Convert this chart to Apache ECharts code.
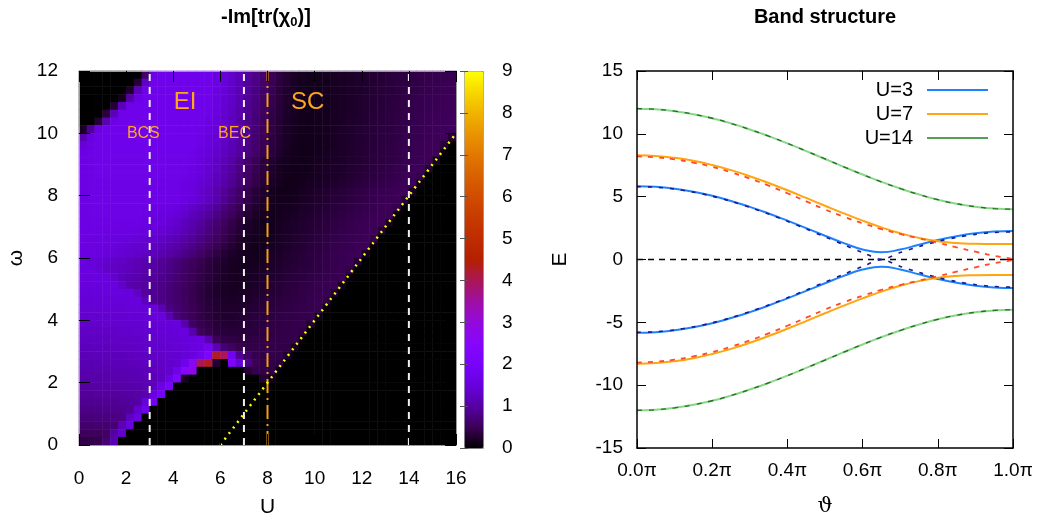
<!DOCTYPE html>
<html><head><meta charset="utf-8">
<script src="https://cdn.jsdelivr.net/npm/echarts@6/dist/echarts.min.js"></script>
<style>html,body{margin:0;padding:0;background:#fff}#c{width:1041px;height:523px}</style>
</head><body><div id="c"></div>
<script>
// ---------- Left panel: -Im[tr(chi0)] heat map (cell centres) ----------
const uCenters = [0.17,0.5,0.83,1.17,1.5,1.83,2.17,2.5,2.83,3.17,3.5,3.83,4.17,4.5,4.83,5.17,5.5,5.83,6.17,6.5,6.83,7.17,7.5,7.83,
  8.17,8.5,8.83,9.17,9.5,9.83,10.17,10.5,10.83,11.17,11.5,11.83,12.17,12.5,12.83,13.17,13.5,13.83,14.17,14.5,14.83,15.17,15.5,15.83];
const omegaCenters = [0.125,0.375,0.625,0.875,1.125,1.375,1.625,1.875,2.125,2.375,2.625,2.875,3.125,3.375,3.625,3.875,
  4.125,4.375,4.625,4.875,5.125,5.375,5.625,5.875,6.125,6.375,6.625,6.875,7.125,7.375,7.625,7.875,
  8.125,8.375,8.625,8.875,9.125,9.375,9.625,9.875,10.125,10.375,10.625,10.875,11.125,11.375,11.625,11.875];
// rows listed from the top (omega = 11.875) down to the bottom (omega = 0.125)
const chiRows = [
[0,0,0,0,0,0,0,0,0.6,1.55,1.7,1.72,1.72,1.72,1.72,1.72,1.72,1.6,1.48,1.34,1.16,0.96,0.8,0.63,0.48,0.36,0.28,0.21,0.18,0.16,0.16,0.18,0.19,0.21,0.23,0.25,0.27,0.29,0.31,0.34,0.36,0.38,0.4,0.42,0.43,0.44,0.46,0.47],
[0,0,0,0,0,0,0,0.3,1.3,1.68,1.72,1.72,1.72,1.72,1.72,1.72,1.72,1.62,1.5,1.35,1.17,0.97,0.8,0.63,0.48,0.36,0.28,0.21,0.18,0.16,0.16,0.17,0.19,0.21,0.23,0.25,0.27,0.29,0.31,0.34,0.36,0.38,0.4,0.42,0.44,0.45,0.47,0.48],
[0,0,0,0,0,0,0.25,1.2,1.65,1.72,1.72,1.72,1.72,1.72,1.72,1.72,1.72,1.6,1.48,1.33,1.15,0.95,0.78,0.61,0.47,0.35,0.27,0.21,0.17,0.16,0.16,0.17,0.19,0.21,0.23,0.25,0.27,0.3,0.32,0.34,0.37,0.39,0.41,0.43,0.45,0.46,0.48,0.49],
[0,0,0,0,0,0.15,1.0,1.6,1.72,1.72,1.72,1.72,1.72,1.72,1.72,1.72,1.7,1.58,1.45,1.31,1.13,0.93,0.76,0.6,0.45,0.34,0.26,0.2,0.17,0.15,0.16,0.17,0.19,0.21,0.23,0.26,0.28,0.3,0.33,0.35,0.37,0.4,0.42,0.44,0.46,0.47,0.49,0.5],
[0,0,0,0,0.3,1.2,1.65,1.72,1.72,1.72,1.72,1.72,1.72,1.72,1.72,1.72,1.68,1.56,1.43,1.29,1.1,0.9,0.74,0.58,0.44,0.33,0.25,0.2,0.16,0.15,0.16,0.17,0.19,0.21,0.24,0.26,0.28,0.31,0.33,0.36,0.38,0.41,0.43,0.45,0.47,0.48,0.5,0.51],
[0,0,0,0.35,1.2,1.65,1.72,1.72,1.72,1.72,1.72,1.72,1.72,1.72,1.72,1.72,1.66,1.54,1.41,1.27,1.07,0.88,0.72,0.56,0.42,0.32,0.24,0.19,0.16,0.15,0.16,0.17,0.19,0.22,0.24,0.26,0.29,0.31,0.34,0.36,0.39,0.41,0.44,0.46,0.48,0.49,0.51,0.52],
[0,0,0.3,1.15,1.62,1.72,1.72,1.72,1.72,1.72,1.72,1.72,1.72,1.72,1.72,1.68,1.6,1.5,1.38,1.24,1.04,0.86,0.7,0.54,0.4,0.31,0.23,0.18,0.16,0.15,0.16,0.18,0.2,0.22,0.25,0.27,0.29,0.32,0.34,0.37,0.39,0.42,0.44,0.46,0.48,0.5,0.52,0.53],
[0.2,0.9,1.55,1.72,1.72,1.72,1.72,1.72,1.72,1.72,1.72,1.72,1.72,1.72,1.72,1.66,1.56,1.46,1.35,1.21,1.02,0.84,0.68,0.52,0.39,0.3,0.22,0.18,0.15,0.15,0.16,0.18,0.2,0.23,0.25,0.28,0.3,0.32,0.35,0.37,0.4,0.42,0.45,0.47,0.49,0.51,0.52,0.54],
[1.1,1.5,1.68,1.72,1.72,1.72,1.72,1.72,1.72,1.72,1.72,1.72,1.72,1.72,1.72,1.64,1.54,1.44,1.33,1.19,1.0,0.82,0.66,0.5,0.38,0.29,0.22,0.17,0.15,0.15,0.16,0.18,0.2,0.23,0.25,0.28,0.3,0.33,0.35,0.38,0.4,0.43,0.45,0.47,0.49,0.51,0.53,0.3],
[1.45,1.62,1.68,1.72,1.72,1.72,1.72,1.72,1.72,1.72,1.72,1.72,1.72,1.72,1.7,1.62,1.52,1.42,1.3,1.16,0.98,0.8,0.64,0.49,0.37,0.28,0.21,0.17,0.15,0.15,0.16,0.18,0.2,0.23,0.25,0.28,0.31,0.33,0.36,0.38,0.41,0.43,0.46,0.48,0.5,0.52,0.3,0],
[1.58,1.65,1.68,1.7,1.7,1.7,1.7,1.7,1.7,1.7,1.7,1.7,1.7,1.7,1.66,1.58,1.48,1.38,1.26,1.12,0.95,0.77,0.62,0.47,0.36,0.27,0.2,0.17,0.15,0.15,0.17,0.19,0.21,0.23,0.26,0.28,0.31,0.34,0.36,0.39,0.41,0.44,0.46,0.48,0.5,0.5,0.06,0],
[1.62,1.66,1.68,1.7,1.7,1.7,1.7,1.7,1.7,1.7,1.7,1.7,1.7,1.7,1.64,1.54,1.42,1.32,1.19,1.03,0.85,0.66,0.5,0.37,0.28,0.21,0.18,0.16,0.15,0.16,0.18,0.2,0.22,0.24,0.27,0.29,0.32,0.34,0.37,0.4,0.42,0.45,0.47,0.49,0.51,0.19,0,0],
[1.62,1.65,1.69,1.69,1.69,1.69,1.69,1.69,1.69,1.69,1.69,1.69,1.69,1.69,1.62,1.52,1.4,1.28,1.14,0.98,0.8,0.62,0.47,0.35,0.26,0.2,0.17,0.15,0.16,0.17,0.19,0.21,0.23,0.25,0.28,0.3,0.33,0.36,0.38,0.41,0.44,0.46,0.49,0.51,0.32,0,0,0],
[1.62,1.65,1.68,1.68,1.68,1.68,1.68,1.68,1.68,1.68,1.68,1.68,1.68,1.65,1.58,1.48,1.36,1.24,1.1,0.93,0.76,0.59,0.45,0.33,0.25,0.19,0.16,0.15,0.16,0.18,0.2,0.22,0.24,0.26,0.29,0.31,0.34,0.37,0.4,0.42,0.45,0.48,0.5,0.45,0,0,0,0],
[1.62,1.65,1.66,1.66,1.66,1.66,1.66,1.66,1.66,1.66,1.66,1.66,1.65,1.6,1.54,1.44,1.33,1.2,1.05,0.89,0.72,0.56,0.42,0.31,0.23,0.18,0.15,0.15,0.17,0.19,0.21,0.24,0.26,0.29,0.31,0.34,0.37,0.4,0.42,0.45,0.47,0.49,0.52,0.07,0,0,0,0],
[1.62,1.64,1.65,1.65,1.65,1.65,1.65,1.65,1.65,1.65,1.65,1.65,1.65,1.58,1.5,1.38,1.27,1.1,0.93,0.76,0.59,0.44,0.33,0.25,0.18,0.15,0.15,0.17,0.2,0.23,0.25,0.28,0.31,0.33,0.36,0.39,0.41,0.44,0.46,0.48,0.5,0.51,0.2,0,0,0,0,0],
[1.62,1.64,1.65,1.65,1.65,1.65,1.65,1.65,1.65,1.65,1.65,1.65,1.64,1.57,1.48,1.37,1.25,1.08,0.9,0.73,0.57,0.43,0.32,0.24,0.18,0.15,0.16,0.18,0.21,0.24,0.26,0.29,0.32,0.34,0.37,0.4,0.42,0.45,0.47,0.49,0.5,0.32,0,0,0,0,0,0],
[1.62,1.64,1.64,1.64,1.64,1.64,1.64,1.64,1.62,1.6,1.58,1.55,1.52,1.44,1.32,1.22,1.08,0.94,0.76,0.62,0.48,0.36,0.27,0.21,0.17,0.17,0.18,0.2,0.23,0.25,0.28,0.31,0.33,0.36,0.39,0.41,0.44,0.46,0.48,0.5,0.44,0,0,0,0,0,0,0],
[1.62,1.63,1.63,1.63,1.63,1.63,1.63,1.63,1.6,1.57,1.54,1.49,1.44,1.33,1.21,1.09,0.95,0.81,0.66,0.53,0.4,0.3,0.23,0.18,0.17,0.18,0.2,0.22,0.25,0.27,0.3,0.33,0.36,0.39,0.42,0.44,0.46,0.48,0.5,0.5,0.06,0,0,0,0,0,0,0],
[1.62,1.62,1.62,1.62,1.62,1.62,1.62,1.62,1.58,1.54,1.49,1.41,1.35,1.22,1.08,0.95,0.82,0.67,0.55,0.43,0.33,0.25,0.2,0.16,0.16,0.19,0.22,0.25,0.27,0.3,0.33,0.36,0.39,0.42,0.44,0.46,0.48,0.5,0.5,0.19,0,0,0,0,0,0,0,0],
[1.62,1.61,1.6,1.6,1.59,1.58,1.57,1.56,1.52,1.48,1.42,1.35,1.27,1.15,1.02,0.9,0.77,0.63,0.51,0.4,0.31,0.24,0.19,0.16,0.17,0.2,0.23,0.25,0.28,0.31,0.34,0.37,0.4,0.43,0.45,0.47,0.49,0.5,0.31,0,0,0,0,0,0,0,0,0],
[1.61,1.59,1.57,1.56,1.54,1.52,1.5,1.47,1.42,1.37,1.31,1.24,1.16,1.05,0.93,0.81,0.69,0.57,0.46,0.35,0.27,0.21,0.17,0.16,0.18,0.21,0.24,0.27,0.3,0.33,0.36,0.39,0.42,0.44,0.46,0.48,0.5,0.44,0,0,0,0,0,0,0,0,0,0],
[1.6,1.57,1.54,1.52,1.49,1.46,1.43,1.39,1.33,1.27,1.2,1.12,1.03,0.93,0.82,0.71,0.6,0.49,0.39,0.3,0.23,0.19,0.16,0.17,0.19,0.22,0.25,0.28,0.31,0.34,0.37,0.4,0.43,0.45,0.47,0.49,0.5,0.06,0,0,0,0,0,0,0,0,0,0],
[1.6,1.56,1.53,1.5,1.46,1.42,1.38,1.34,1.25,1.18,1.1,1.02,0.93,0.82,0.71,0.6,0.48,0.39,0.31,0.24,0.19,0.17,0.16,0.18,0.21,0.24,0.27,0.3,0.33,0.36,0.38,0.41,0.44,0.46,0.48,0.5,0.19,0,0,0,0,0,0,0,0,0,0,0],
[1.55,1.47,1.42,1.38,1.33,1.28,1.23,1.15,1.09,1.02,0.92,0.83,0.73,0.63,0.54,0.46,0.38,0.31,0.26,0.2,0.18,0.17,0.18,0.2,0.23,0.26,0.28,0.31,0.34,0.36,0.39,0.42,0.44,0.47,0.49,0.31,0,0,0,0,0,0,0,0,0,0,0,0],
[1.5,1.53,1.45,1.33,1.28,1.24,1.19,1.12,1.05,0.98,0.89,0.8,0.7,0.6,0.51,0.43,0.36,0.29,0.24,0.2,0.18,0.18,0.2,0.22,0.25,0.27,0.3,0.33,0.35,0.38,0.4,0.43,0.45,0.47,0.43,0,0,0,0,0,0,0,0,0,0,0,0,0],
[1.5,1.5,1.51,1.53,1.38,1.18,1.13,1.07,1.01,0.94,0.85,0.76,0.67,0.57,0.49,0.41,0.34,0.28,0.23,0.19,0.19,0.2,0.22,0.25,0.27,0.29,0.32,0.34,0.37,0.39,0.42,0.44,0.46,0.48,0.06,0,0,0,0,0,0,0,0,0,0,0,0,0],
[1.49,1.49,1.5,1.5,1.52,1.33,1.09,1.03,0.97,0.9,0.82,0.73,0.64,0.55,0.46,0.39,0.32,0.26,0.22,0.19,0.19,0.21,0.24,0.27,0.3,0.32,0.35,0.37,0.4,0.42,0.44,0.46,0.48,0.18,0,0,0,0,0,0,0,0,0,0,0,0,0,0],
[1.48,1.48,1.48,1.49,1.5,1.51,1.53,1.28,0.95,0.88,0.8,0.71,0.62,0.53,0.45,0.38,0.31,0.26,0.22,0.2,0.21,0.23,0.26,0.29,0.31,0.33,0.36,0.38,0.41,0.43,0.45,0.47,0.3,0,0,0,0,0,0,0,0,0,0,0,0,0,0,0],
[1.44,1.44,1.44,1.45,1.45,1.46,1.48,1.5,1.22,0.87,0.8,0.72,0.63,0.55,0.46,0.39,0.32,0.27,0.24,0.22,0.23,0.25,0.29,0.32,0.34,0.36,0.38,0.4,0.42,0.44,0.46,0.4,0,0,0,0,0,0,0,0,0,0,0,0,0,0,0,0],
[1.41,1.41,1.42,1.42,1.43,1.44,1.45,1.46,1.48,1.5,1.16,0.78,0.69,0.58,0.49,0.41,0.34,0.29,0.26,0.25,0.26,0.28,0.31,0.34,0.36,0.38,0.4,0.41,0.43,0.44,0.46,0.06,0,0,0,0,0,0,0,0,0,0,0,0,0,0,0,0],
[1.37,1.37,1.38,1.38,1.39,1.4,1.41,1.42,1.44,1.46,1.49,1.14,0.72,0.6,0.5,0.42,0.35,0.3,0.27,0.27,0.29,0.31,0.34,0.36,0.38,0.4,0.41,0.42,0.43,0.45,0.17,0,0,0,0,0,0,0,0,0,0,0,0,0,0,0,0,0],
[1.33,1.34,1.35,1.36,1.37,1.38,1.39,1.4,1.42,1.43,1.45,1.48,1.5,1.08,0.58,0.47,0.39,0.33,0.3,0.29,0.3,0.32,0.35,0.37,0.39,0.4,0.42,0.43,0.44,0.28,0,0,0,0,0,0,0,0,0,0,0,0,0,0,0,0,0,0],
[1.29,1.3,1.3,1.31,1.32,1.33,1.35,1.36,1.38,1.4,1.42,1.44,1.47,1.5,1.06,0.54,0.44,0.37,0.34,0.33,0.33,0.34,0.36,0.38,0.4,0.41,0.42,0.43,0.38,0,0,0,0,0,0,0,0,0,0,0,0,0,0,0,0,0,0,0],
[1.25,1.26,1.26,1.27,1.28,1.29,1.3,1.32,1.34,1.36,1.38,1.41,1.44,1.48,1.53,1.6,1.1,0.5,0.42,0.39,0.38,0.38,0.39,0.4,0.41,0.42,0.42,0.43,0.05,0,0,0,0,0,0,0,0,0,0,0,0,0,0,0,0,0,0,0],
[1.21,1.22,1.22,1.23,1.24,1.25,1.27,1.29,1.31,1.33,1.35,1.38,1.41,1.45,1.5,1.6,1.8,1.2,0.7,0.55,0.45,0.42,0.42,0.42,0.42,0.42,0.42,0.16,0,0,0,0,0,0,0,0,0,0,0,0,0,0,0,0,0,0,0,0],
[1.17,1.18,1.18,1.19,1.2,1.21,1.23,1.25,1.27,1.3,1.33,1.36,1.4,1.45,1.52,1.75,2.2,4.3,4.0,1.8,0.9,0.6,0.45,0.42,0.42,0.42,0.26,0,0,0,0,0,0,0,0,0,0,0,0,0,0,0,0,0,0,0,0,0],
[1.13,1.14,1.14,1.15,1.16,1.17,1.19,1.21,1.24,1.27,1.31,1.35,1.42,1.7,2.6,4.0,4.3,0.3,0,2.2,1.5,0.8,0.5,0.42,0.4,0.36,0,0,0,0,0,0,0,0,0,0,0,0,0,0,0,0,0,0,0,0,0,0],
[1.08,1.09,1.1,1.1,1.11,1.12,1.14,1.16,1.19,1.23,1.28,1.36,1.7,2.5,2.8,0,0,0,0,0,0,0.3,0.45,0.42,0.4,0.05,0,0,0,0,0,0,0,0,0,0,0,0,0,0,0,0,0,0,0,0,0,0],
[1.03,1.04,1.05,1.06,1.07,1.08,1.1,1.12,1.15,1.19,1.26,1.55,2.3,0.2,0,0,0,0,0,0,0,0,0,0.3,0.15,0,0,0,0,0,0,0,0,0,0,0,0,0,0,0,0,0,0,0,0,0,0,0],
[0.98,0.99,1.0,1.01,1.02,1.03,1.05,1.07,1.1,1.2,1.6,2.0,0,0,0,0,0,0,0,0,0,0,0,0,0,0,0,0,0,0,0,0,0,0,0,0,0,0,0,0,0,0,0,0,0,0,0,0],
[0.93,0.94,0.95,0.96,0.97,0.98,1.0,1.02,1.1,1.5,1.9,0,0,0,0,0,0,0,0,0,0,0,0,0,0,0,0,0,0,0,0,0,0,0,0,0,0,0,0,0,0,0,0,0,0,0,0,0],
[0.86,0.87,0.88,0.89,0.9,0.92,0.94,1.0,1.45,1.8,0,0,0,0,0,0,0,0,0,0,0,0,0,0,0,0,0,0,0,0,0,0,0,0,0,0,0,0,0,0,0,0,0,0,0,0,0,0],
[0.8,0.81,0.82,0.83,0.84,0.86,0.92,1.35,1.7,0,0,0,0,0,0,0,0,0,0,0,0,0,0,0,0,0,0,0,0,0,0,0,0,0,0,0,0,0,0,0,0,0,0,0,0,0,0,0],
[0.72,0.73,0.74,0.75,0.77,0.8,1.25,1.6,0,0,0,0,0,0,0,0,0,0,0,0,0,0,0,0,0,0,0,0,0,0,0,0,0,0,0,0,0,0,0,0,0,0,0,0,0,0,0,0],
[0.63,0.64,0.65,0.66,0.7,1.15,1.5,0,0,0,0,0,0,0,0,0,0,0,0,0,0,0,0,0,0,0,0,0,0,0,0,0,0,0,0,0,0,0,0,0,0,0,0,0,0,0,0,0],
[0.52,0.53,0.54,0.58,1.0,1.35,0,0,0,0,0,0,0,0,0,0,0,0,0,0,0,0,0,0,0,0,0,0,0,0,0,0,0,0,0,0,0,0,0,0,0,0,0,0,0,0,0,0],
[0.4,0.41,0.45,0.7,1.1,0,0,0,0,0,0,0,0,0,0,0,0,0,0,0,0,0,0,0,0,0,0,0,0,0,0,0,0,0,0,0,0,0,0,0,0,0,0,0,0,0,0,0]
];
const colorTicks = [0,1,2,3,4,5,6,7,8,9];
const regimeLinesU = [3, 7, 14];          // white dashed lines
const scLineU = 8;                        // orange dash-dot line
const thresholdLine = [[6, 0], [16, 10]]; // yellow dotted line
const regionLabels = [
  {name: 'EI', value: [4.5, 11.0], size: 24},
  {name: 'SC', value: [9.7, 11.0], size: 24},
  {name: 'BCS', value: [2.73, 10.0], size: 16},
  {name: 'BEC', value: [6.6, 10.0], size: 16}
];

// ---------- Right panel: band structure ----------
const theta = [0,0.05,0.1,0.15,0.2,0.25,0.3,0.35,0.4,0.45,0.5,0.55,0.6,0.65,0.7,0.75,0.8,0.85,0.9,0.95,1.0];
const u3Up     = [5.83,5.78,5.63,5.39,5.07,4.66,4.19,3.66,3.09,2.50,1.89,1.30,0.80,0.57,0.79,1.18,1.55,1.85,2.08,2.22,2.27];
const u3Dn     = [-5.83,-5.78,-5.63,-5.39,-5.07,-4.66,-4.19,-3.66,-3.09,-2.50,-1.89,-1.30,-0.80,-0.57,-0.79,-1.18,-1.55,-1.85,-2.08,-2.22,-2.27];
const u3DashUp = [5.80,5.75,5.60,5.36,5.04,4.63,4.15,3.62,3.04,2.43,1.80,1.17,0.56,0.02,0.55,1.03,1.44,1.76,2.00,2.15,2.20];
const u3DashDn = [-5.80,-5.75,-5.60,-5.36,-5.04,-4.63,-4.15,-3.62,-3.04,-2.43,-1.80,-1.17,-0.56,-0.02,-0.55,-1.03,-1.44,-1.76,-2.00,-2.15,-2.20];
const u7Up     = [8.29,8.24,8.09,7.85,7.52,7.11,6.63,6.09,5.51,4.90,4.28,3.67,3.09,2.56,2.09,1.72,1.46,1.31,1.25,1.23,1.23];
const u7Dn     = [-8.29,-8.24,-8.09,-7.85,-7.52,-7.11,-6.63,-6.09,-5.51,-4.90,-4.28,-3.67,-3.09,-2.56,-2.09,-1.72,-1.46,-1.31,-1.25,-1.23,-1.23];
const u7DashUp = [8.20,8.13,7.97,7.71,7.37,6.94,6.44,5.88,5.27,4.63,3.98,3.40,2.88,2.42,2.03,1.68,1.33,0.97,0.62,0.30,0.05];
const u7DashDn = [-8.20,-8.13,-7.97,-7.71,-7.37,-6.94,-6.44,-5.88,-5.27,-4.63,-3.98,-3.40,-2.88,-2.42,-2.03,-1.68,-1.33,-0.97,-0.62,-0.30,-0.05];
const u14Up    = [12.0,11.95,11.80,11.56,11.24,10.83,10.35,9.82,9.24,8.63,8.0,7.37,6.76,6.18,5.65,5.17,4.76,4.44,4.20,4.05,4.0];
const u14Dn    = [-12.0,-11.95,-11.80,-11.56,-11.24,-10.83,-10.35,-9.82,-9.24,-8.63,-8.0,-7.37,-6.76,-6.18,-5.65,-5.17,-4.76,-4.44,-4.20,-4.05,-4.0];

// gnuplot-like palette (black-purple-red-yellow), stops every 0.5
const palette = ['#000000','#3c0057','#5500a4','#6801dd','#7803fb','#8605fb','#9309dd','#9f0fa4','#aa1657',
  '#b42000','#be2c00','#c73a00','#d04c00','#d96000','#e17800','#e99400','#f0b300','#f8d700','#ffff00'];

chiRows.forEach((r, k) => { if (r.length !== uCenters.length) throw new Error('row ' + k + ' has ' + r.length); });
if (chiRows.length !== omegaCenters.length) throw new Error('rows ' + chiRows.length);

const FONT = '"Liberation Sans", Arial, Helvetica, sans-serif';
const heatData = [];
chiRows.forEach((row, r) => {
  const yi = omegaCenters.length - 1 - r;
  row.forEach((v, xi) => heatData.push([xi, yi, v]));
});
const pair = (ys) => theta.map((t, i) => [t, ys[i]]);

const L = {left: 79, top: 71, width: 377, height: 377};
const CB = {left: 464, top: 71, width: 19, height: 377};
const R = {left: 637, top: 71, width: 376, height: 377};
const tickFont = {fontFamily: FONT, fontSize: 19, color: '#000'};
const grayAxis = {show: true, onZero: false, lineStyle: {color: '#9a9a9a', width: 1}};
const blackAxis = {show: true, onZero: false, lineStyle: {color: '#000', width: 1.5}};
const tickIn = (len, color) => ({show: true, inside: true, length: len, lineStyle: {color: color, width: 1}});

const chart = echarts.init(document.getElementById('c'), null, {renderer: 'canvas'});
const option = {
  animation: false,
  backgroundColor: '#fff',
  textStyle: {fontFamily: FONT},
  grid: [Object.assign({}, L), Object.assign({}, CB), Object.assign({}, R)],
  xAxis: [
    {type: 'category', gridIndex: 0, data: uCenters, show: false, boundaryGap: true},
    {type: 'value', gridIndex: 0, min: 0, max: 16, interval: 2, position: 'bottom', z: 10,
      name: 'U', nameLocation: 'middle', nameGap: 52, nameTextStyle: {fontFamily: FONT, fontSize: 21, color: '#000'},
      axisLine: grayAxis, axisTick: tickIn(11, '#000'),
      axisLabel: Object.assign({margin: 24}, tickFont), splitLine: {show: false}},
    {type: 'value', gridIndex: 0, min: 0, max: 16, interval: 2, position: 'top', z: 10,
      axisLine: grayAxis, axisTick: tickIn(11, '#000'), axisLabel: {show: false}, splitLine: {show: false}},
    {type: 'value', gridIndex: 1, min: 0, max: 1, show: false},
    {type: 'value', gridIndex: 2, min: 0, max: 1, interval: 0.2, position: 'bottom', z: 10,
      name: 'ϑ', nameLocation: 'middle', nameGap: 48, nameTextStyle: {fontFamily: '"DejaVu Serif", serif', fontSize: 21, color: '#000'},
      axisLine: blackAxis, axisTick: tickIn(9, '#000'),
      axisLabel: Object.assign({margin: 13, formatter: v => v.toFixed(1) + 'π'}, tickFont), splitLine: {show: false}},
    {type: 'value', gridIndex: 2, min: 0, max: 1, interval: 0.2, position: 'top', z: 10,
      axisLine: blackAxis, axisTick: tickIn(9, '#000'), axisLabel: {show: false}, splitLine: {show: false}}
  ],
  yAxis: [
    {type: 'category', gridIndex: 0, data: omegaCenters, show: false, boundaryGap: true},
    {type: 'value', gridIndex: 0, min: 0, max: 12, interval: 2, position: 'left', z: 10,
      name: 'ω', nameLocation: 'middle', nameGap: 52, nameRotate: 90, nameTextStyle: {fontFamily: FONT, fontSize: 21, color: '#000'},
      axisLine: grayAxis, axisTick: tickIn(11, '#000'),
      axisLabel: Object.assign({margin: 21}, tickFont), splitLine: {show: false}},
    {type: 'value', gridIndex: 0, min: 0, max: 12, interval: 2, position: 'right', z: 10,
      axisLine: grayAxis, axisTick: tickIn(11, '#000'), axisLabel: {show: false}, splitLine: {show: false}},
    {type: 'value', gridIndex: 1, min: 0, max: 9, interval: 1, position: 'right', z: 10,
      axisLine: {show: false}, axisTick: tickIn(4, '#555'),
      axisLabel: Object.assign({margin: 19, formatter: v => String(colorTicks[v] !== undefined ? colorTicks[v] : v)}, tickFont),
      splitLine: {show: false}},
    {type: 'value', gridIndex: 1, min: 0, max: 9, interval: 1, position: 'left', z: 10,
      axisLine: {show: false}, axisTick: tickIn(4, '#555'), axisLabel: {show: false}, splitLine: {show: false}},
    {type: 'value', gridIndex: 2, min: -15, max: 15, interval: 5, position: 'left', z: 10,
      name: 'E', nameLocation: 'middle', nameGap: 66, nameRotate: 90, nameTextStyle: {fontFamily: FONT, fontSize: 21, color: '#000'},
      axisLine: blackAxis, axisTick: tickIn(9, '#000'),
      axisLabel: Object.assign({margin: 14}, tickFont), splitLine: {show: false}},
    {type: 'value', gridIndex: 2, min: -15, max: 15, interval: 5, position: 'right', z: 10,
      axisLine: blackAxis, axisTick: tickIn(9, '#000'), axisLabel: {show: false}, splitLine: {show: false}}
  ],
  visualMap: {
    type: 'continuous', min: 0, max: 9, seriesIndex: 0, calculable: false, realtime: false,
    inRange: {color: palette}, itemWidth: CB.width, itemHeight: CB.height,
    left: CB.left, top: CB.top, padding: 0, text: null, showLabel: false,
    borderColor: '#9a9a9a', borderWidth: 1, hoverLink: false
  },
  legend: {
    orient: 'vertical', right: 53, top: 80, align: 'right', icon: 'rect', padding: 0,
    itemWidth: 61, itemHeight: 2, itemGap: 4,
    data: ['U=3', 'U=7', 'U=14'],
    textStyle: {fontFamily: FONT, fontSize: 20, color: '#000', width: 56, align: 'right', lineHeight: 17, padding: [0, 9, 0, 0]}
  },
  graphic: [
    {type: 'text', x: 266, y: 17, style: {
      text: '{a|-Im[tr(}{a|χ}{s|0}{a|)]}', textAlign: 'center', textVerticalAlign: 'middle',
      rich: {a: {fontFamily: FONT, fontSize: 20, fontWeight: 'bold', lineHeight: 24, fill: '#000', verticalAlign: 'middle'},
             s: {fontFamily: FONT, fontSize: 13, fontWeight: 'bold', lineHeight: 11, fill: '#000', verticalAlign: 'bottom'}}
    }},
    {type: 'text', x: 825, y: 17, style: {
      text: 'Band structure', textAlign: 'center', textVerticalAlign: 'middle',
      font: 'bold 20px ' + FONT, fill: '#000'
    }}
  ],
  series: [
    {type: 'heatmap', xAxisIndex: 0, yAxisIndex: 0, data: heatData, z: 1, silent: true,
      itemStyle: {borderWidth: 0}, emphasis: {disabled: true}, progressive: 0},
    ...regimeLinesU.map(u => ({type: 'line', xAxisIndex: 1, yAxisIndex: 1, z: 5, silent: true, symbol: 'none',
      data: [[u, 0], [u, 12]], lineStyle: {color: '#f0f0f0', width: 2, type: [7, 6]}})),
    {type: 'line', xAxisIndex: 1, yAxisIndex: 1, z: 5, silent: true, symbol: 'none',
      data: [[scLineU, 0], [scLineU, 12]], lineStyle: {color: '#f0a010', width: 2, type: [14, 5, 2, 5]}},
    {type: 'line', xAxisIndex: 1, yAxisIndex: 1, z: 5, silent: true, symbol: 'none',
      data: thresholdLine, lineStyle: {color: '#ffff00', width: 2.5, type: [2, 5]}},
    {type: 'scatter', xAxisIndex: 1, yAxisIndex: 1, z: 6, silent: true, symbolSize: 1,
      itemStyle: {color: 'rgba(0,0,0,0)', opacity: 1},
      data: regionLabels.map(d => ({name: d.name, value: d.value,
        label: {show: true, position: 'inside', formatter: '{b}', color: '#ffa51e', opacity: 1,
          textBorderWidth: 0, textBorderColor: 'transparent', fontFamily: FONT, fontSize: d.size}}))},
    {type: 'line', xAxisIndex: 3, yAxisIndex: 3, data: [], symbol: 'none', silent: true},
    {type: 'line', name: 'zero', xAxisIndex: 4, yAxisIndex: 5, symbol: 'none', silent: true, z: 3,
      data: [[0, 0], [1, 0]], lineStyle: {color: '#000', width: 1.5, type: [6, 5]}},
    {type: 'line', name: 'U=3', xAxisIndex: 4, yAxisIndex: 5, symbol: 'none', smooth: true, z: 4,
      data: pair(u3Up), lineStyle: {color: '#1e82ff', width: 2}, itemStyle: {color: '#1e82ff'}},
    {type: 'line', name: 'U=3', xAxisIndex: 4, yAxisIndex: 5, symbol: 'none', smooth: true, z: 4,
      data: pair(u3Dn), lineStyle: {color: '#1e82ff', width: 2}, itemStyle: {color: '#1e82ff'}},
    {type: 'line', name: 'U=7', xAxisIndex: 4, yAxisIndex: 5, symbol: 'none', smooth: true, z: 4,
      data: pair(u7Up), lineStyle: {color: '#ffa510', width: 2}, itemStyle: {color: '#ffa510'}},
    {type: 'line', name: 'U=7', xAxisIndex: 4, yAxisIndex: 5, symbol: 'none', smooth: true, z: 4,
      data: pair(u7Dn), lineStyle: {color: '#ffa510', width: 2}, itemStyle: {color: '#ffa510'}},
    {type: 'line', name: 'U=14', xAxisIndex: 4, yAxisIndex: 5, symbol: 'none', smooth: true, z: 4,
      data: pair(u14Up), lineStyle: {color: '#86d886', width: 2}, itemStyle: {color: '#55a055'}},
    {type: 'line', name: 'U=14', xAxisIndex: 4, yAxisIndex: 5, symbol: 'none', smooth: true, z: 4,
      data: pair(u14Dn), lineStyle: {color: '#86d886', width: 2}, itemStyle: {color: '#55a055'}},
    {type: 'line', name: 'U=3 free', xAxisIndex: 4, yAxisIndex: 5, symbol: 'none', smooth: 0.3, z: 5,
      data: pair(u3DashUp), lineStyle: {color: '#1a1a8c', width: 1.6, type: [4, 7]}},
    {type: 'line', name: 'U=3 free', xAxisIndex: 4, yAxisIndex: 5, symbol: 'none', smooth: 0.3, z: 5,
      data: pair(u3DashDn), lineStyle: {color: '#1a1a8c', width: 1.6, type: [4, 7]}},
    {type: 'line', name: 'U=7 free', xAxisIndex: 4, yAxisIndex: 5, symbol: 'none', smooth: true, z: 5,
      data: pair(u7DashUp), lineStyle: {color: '#ff4a2a', width: 1.8, type: [5, 6]}},
    {type: 'line', name: 'U=7 free', xAxisIndex: 4, yAxisIndex: 5, symbol: 'none', smooth: true, z: 5,
      data: pair(u7DashDn), lineStyle: {color: '#ff4a2a', width: 1.8, type: [5, 6]}},
    {type: 'line', name: 'U=14 free', xAxisIndex: 4, yAxisIndex: 5, symbol: 'none', smooth: true, z: 5,
      data: pair(u14Up), lineStyle: {color: '#2a6a2a', width: 1.3, type: [5, 7]}},
    {type: 'line', name: 'U=14 free', xAxisIndex: 4, yAxisIndex: 5, symbol: 'none', smooth: true, z: 5,
      data: pair(u14Dn), lineStyle: {color: '#2a6a2a', width: 1.3, type: [5, 7]}}
  ]
};
chart.setOption(option);
</script>
</body></html>
